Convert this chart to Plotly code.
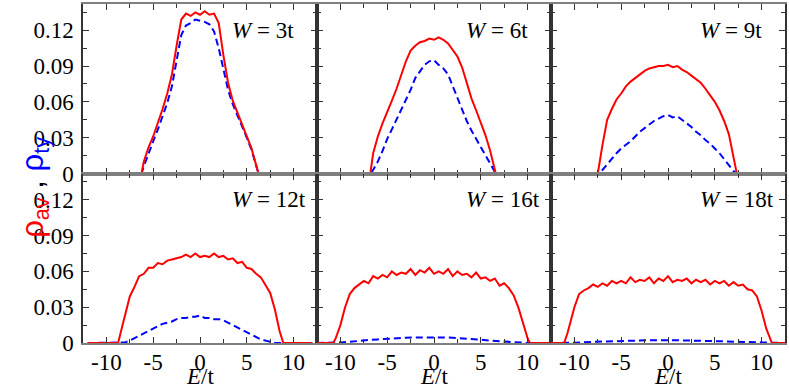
import plotly.graph_objects as go
from plotly.subplots import make_subplots

# W = 3t
e_w3 = [-7.5, -7, -6.5, -6.25, -6, -5.5, -5, -4.5, -4, -3.5, -3, -2.5, -2, -1.5, -1, -0.5, 0,
        0.5, 1, 1.5, 2, 2.5, 3, 3.5, 4, 4.5, 5, 5.5, 6, 6.25, 6.5, 7, 7.5]
av_w3 = [0, 0, 0, 0, 0.010, 0.022, 0.031, 0.042, 0.054, 0.067, 0.083, 0.107, 0.129, 0.134, 0.132,
         0.135, 0.133, 0.136, 0.133, 0.134, 0.126, 0.099, 0.076, 0.061, 0.051, 0.041, 0.032, 0.021,
         0.007, 0, 0, 0, 0]
ty_w3 = [0, 0, 0, 0, 0.006, 0.017, 0.027, 0.037, 0.048, 0.059, 0.073, 0.094, 0.116, 0.124, 0.126,
         0.129, 0.128, 0.127, 0.125, 0.119, 0.105, 0.087, 0.070, 0.058, 0.049, 0.040, 0.030, 0.020,
         0.006, 0, 0, 0, 0]

# W = 6t
e_w6 = [-9, -8.5, -8, -7.5, -7, -6.8, -6.5, -6, -5.5, -5, -4.5, -4, -3.5, -3, -2.5, -2, -1.5, -1,
        -0.5, 0, 0.5, 1, 1.5, 2, 2.5, 3, 3.5, 4, 4.5, 5, 5.5, 6, 6.6, 7, 7.5, 8, 8.5, 9]
av_w6 = [0, 0, 0, 0, 0, 0, 0.017, 0.031, 0.042, 0.051, 0.061, 0.071, 0.082, 0.094, 0.103, 0.107,
         0.110, 0.111, 0.113, 0.112, 0.114, 0.112, 0.109, 0.104, 0.098, 0.089, 0.075, 0.063, 0.053,
         0.043, 0.032, 0.019, 0, 0, 0, 0, 0, 0]
ty_w6 = [0, 0, 0, 0, 0, 0, 0.003, 0.010, 0.019, 0.029, 0.037, 0.045, 0.053, 0.061, 0.070, 0.080,
         0.086, 0.091, 0.094, 0.095, 0.091, 0.088, 0.083, 0.073, 0.063, 0.053, 0.044, 0.036, 0.029,
         0.023, 0.016, 0.008, 0, 0, 0, 0, 0, 0]

# W = 9t
e_w9 = [-10.5, -10, -9.5, -9, -8.5, -8, -7.5, -7, -6.5, -6, -5.5, -5, -4.5, -4, -3.5, -3, -2.5,
        -2, -1.5, -1, -0.5, 0, 0.5, 1, 1.5, 2, 2.5, 3, 3.5, 4, 4.5, 5, 5.5, 6, 6.5, 7, 7.35, 7.5,
        8, 8.5, 9, 9.5, 10, 10.5]
av_w9 = [0, 0, 0, 0, 0, 0, 0, 0.024, 0.045, 0.054, 0.062, 0.067, 0.073, 0.077, 0.080, 0.083,
         0.086, 0.088, 0.089, 0.090, 0.090, 0.091, 0.089, 0.090, 0.087, 0.085, 0.082, 0.079, 0.076,
         0.071, 0.066, 0.060, 0.053, 0.044, 0.033, 0.015, 0, 0, 0, 0, 0, 0, 0, 0]
ty_w9 = [0, 0, 0, 0, 0, 0, 0, 0.003, 0.008, 0.012, 0.017, 0.021, 0.024, 0.027, 0.031, 0.035,
         0.038, 0.041, 0.044, 0.046, 0.048, 0.049, 0.047, 0.048, 0.045, 0.042, 0.039, 0.035, 0.032,
         0.028, 0.025, 0.021, 0.017, 0.012, 0.007, 0.002, 0, 0, 0, 0, 0, 0, 0, 0]

# W = 12t
e_w12 = [-12, -11.5, -11, -10.5, -10, -9.5, -9, -8.75, -8.5, -8, -7.5, -7, -6.5, -6, -5.5, -5,
         -4.5, -4, -3.5, -3, -2.5, -2, -1.5, -1, -0.5, 0, 0.5, 1, 1.5, 2, 2.5, 3, 3.5, 4, 4.5, 5,
         5.5, 6, 6.5, 7, 7.5, 8, 8.5, 8.9, 9, 9.5, 10, 10.5, 11, 11.5, 12]
av_w12 = [0, 0, 0, 0, 0, 0, 0, 0, 0.008, 0.023, 0.039, 0.047, 0.056, 0.058, 0.063, 0.063, 0.067,
          0.066, 0.069, 0.070, 0.071, 0.072, 0.074, 0.072, 0.075, 0.072, 0.073, 0.072, 0.075,
          0.072, 0.073, 0.070, 0.071, 0.067, 0.068, 0.063, 0.062, 0.058, 0.055, 0.049, 0.042,
          0.028, 0.010, 0, 0, 0, 0, 0, 0, 0, 0]
ty_w12 = [0, 0, 0, 0, 0, 0, 0, 0, 0, 0.0005, 0.002, 0.004, 0.006, 0.008, 0.010, 0.012, 0.014,
          0.016, 0.017, 0.018, 0.020, 0.021, 0.021, 0.022, 0.022, 0.023, 0.021, 0.021, 0.020,
          0.020, 0.019, 0.017, 0.015, 0.013, 0.011, 0.009, 0.007, 0.005, 0.003, 0.002, 0.001, 0,
          0, 0, 0, 0, 0, 0, 0, 0, 0]

# W = 16t
e_w16 = [-12.5, -12, -11.5, -11, -10.75, -10.5, -10, -9.5, -9, -8.5, -8, -7.5, -7, -6.5, -6,
         -5.5, -5, -4.5, -4, -3.5, -3, -2.5, -2, -1.5, -1, -0.5, 0, 0.5, 1, 1.5, 2, 2.5, 3, 3.5,
         4, 4.5, 5, 5.5, 6, 6.5, 7, 7.5, 8, 8.5, 9, 9.5, 10, 10.25, 10.5, 11, 11.5, 12, 12.5]
av_w16 = [0, 0, 0, 0, 0, 0.004, 0.015, 0.030, 0.041, 0.046, 0.049, 0.052, 0.050, 0.056, 0.054,
          0.057, 0.055, 0.060, 0.057, 0.059, 0.058, 0.062, 0.057, 0.061, 0.059, 0.063, 0.058,
          0.060, 0.058, 0.062, 0.056, 0.060, 0.057, 0.058, 0.055, 0.059, 0.054, 0.055, 0.052,
          0.054, 0.048, 0.050, 0.046, 0.040, 0.030, 0.016, 0.004, 0, 0, 0, 0, 0, 0]
e_ty_w16 = [-12.5, -11, -10, -9, -8, -7, -6, -5, -4, -3, -2, -1, 0, 1, 2, 3, 4, 5, 6, 7, 8, 9,
            10, 11, 12.5]
ty_w16 = [0, 0, 0.0005, 0.001, 0.002, 0.0025, 0.003, 0.0036, 0.004, 0.0045, 0.0047, 0.0048,
          0.0048, 0.0047, 0.0044, 0.004, 0.0034, 0.0028, 0.002, 0.0014, 0.0008, 0.0003, 0, 0, 0]

# W = 18t
e_w18 = [-12.5, -12, -11.5, -11.1, -10.75, -10.5, -10, -9.5, -9, -8.5, -8, -7.5, -7, -6.5, -6,
         -5.5, -5, -4.5, -4, -3.5, -3, -2.5, -2, -1.5, -1, -0.5, 0, 0.5, 1, 1.5, 2, 2.5, 3, 3.5,
         4, 4.5, 5, 5.5, 6, 6.5, 7, 7.5, 8, 8.5, 9, 9.5, 10, 10.5, 11, 11.1, 11.5, 12, 12.5]
av_w18 = [0, 0, 0, 0, 0.008, 0.016, 0.030, 0.041, 0.044, 0.046, 0.049, 0.047, 0.050, 0.048,
          0.052, 0.050, 0.052, 0.050, 0.055, 0.051, 0.053, 0.052, 0.055, 0.050, 0.054, 0.052,
          0.056, 0.051, 0.053, 0.052, 0.054, 0.050, 0.053, 0.051, 0.053, 0.049, 0.052, 0.050,
          0.052, 0.048, 0.051, 0.048, 0.049, 0.045, 0.044, 0.039, 0.027, 0.012, 0.002, 0, 0, 0, 0]
e_ty_w18 = [-12.5, -11, -10, -8, -6, -4, -2, 0, 2, 4, 6, 8, 10, 11, 12.5]
ty_w18 = [0, 0, 0.0003, 0.001, 0.0016, 0.002, 0.0023, 0.0024, 0.0022, 0.0019, 0.0014, 0.0009,
          0.0003, 0, 0]

panel_labels = ['3t', '6t', '9t', '12t', '16t', '18t']
x_tickvals = [-10, -5, 0, 5, 10]
x_ticktext = ['-10', '-5', '0', '5', '10']
y_tickvals = [0, 0.03, 0.06, 0.09, 0.12]
y_ticktext = ['0', '0.03', '0.06', '0.09', '0.12']

panels = [
    (e_w3, av_w3, e_w3, ty_w3),
    (e_w6, av_w6, e_w6, ty_w6),
    (e_w9, av_w9, e_w9, ty_w9),
    (e_w12, av_w12, e_w12, ty_w12),
    (e_w16, av_w16, e_ty_w16, ty_w16),
    (e_w18, av_w18, e_ty_w18, ty_w18),
]

serif = 'Liberation Serif, Times New Roman, Times, serif'
fig = make_subplots(rows=2, cols=3, shared_xaxes=True, shared_yaxes=True,
                    horizontal_spacing=0, vertical_spacing=0)

for i, (ex, av, et, ty) in enumerate(panels):
    r, c = i // 3 + 1, i % 3 + 1
    fig.add_trace(go.Scatter(x=et, y=ty, mode='lines',
                             line=dict(color='#0000ff', width=2, dash='7px,4px')), row=r, col=c)
    fig.add_trace(go.Scatter(x=ex, y=av, mode='lines',
                             line=dict(color='#ff0000', width=2)), row=r, col=c)
    fig.add_annotation(x=3.25, y=0.12, xref='x%d' % (i + 1) if i else 'x',
                       yref='y%d' % (i + 1) if i else 'y',
                       text='<i>W</i> = ' + panel_labels[i], showarrow=False,
                       xanchor='left', yanchor='middle',
                       font=dict(family=serif, size=23, color='black'))

fig.update_xaxes(range=[-12.5, 12.5], tickvals=x_tickvals, ticktext=x_ticktext,
                 ticks='inside', ticklen=6, tickcolor='#333', mirror='ticks',
                 showline=True, linecolor='#7f7f7f', linewidth=2, showgrid=False, zeroline=False,
                 minor=dict(dtick=2.5, tick0=0, ticks='inside', ticklen=4, tickcolor='#333'),
                 tickfont=dict(family=serif, size=23, color='black'), ticklabelstandoff=-3)
fig.update_yaxes(range=[0, 0.142], tickvals=y_tickvals, ticktext=y_ticktext,
                 ticks='inside', ticklen=6, tickcolor='#333', mirror='ticks',
                 showline=True, linecolor='#333', linewidth=1.5, showgrid=False, zeroline=False,
                 minor=dict(dtick=0.015, tick0=0, ticks='inside', ticklen=4, tickcolor='#333'),
                 tickfont=dict(family=serif, size=23, color='black'), ticklabelstandoff=3)

for c in range(1, 4):
    fig.add_annotation(x=0, y=-0.1, xref='x%d' % (c + 3), yref='paper',
                       text='<i>E</i>/t', showarrow=False, yanchor='middle',
                       font=dict(family=serif, size=23, color='black'))

fig.add_annotation(x=-0.1, y=0.46, xref='paper', yref='paper', textangle=-90,
                   showarrow=False,
                   text='<span style="color:#ff0000">ρ<sub>av</sub></span> , '
                        '<span style="color:#0000ff">ρ<sub>ty</sub></span>',
                   font=dict(family='Liberation Sans, Arial, sans-serif', size=31, color='black'))

fig.update_layout(width=789, height=389, margin=dict(l=83, r=2, t=2, b=46),
                  plot_bgcolor='white', paper_bgcolor='white', showlegend=False)

fig.write_html('out.html', config={'displayModeBar': False},
               post_script="document.body.style.margin='0';")
